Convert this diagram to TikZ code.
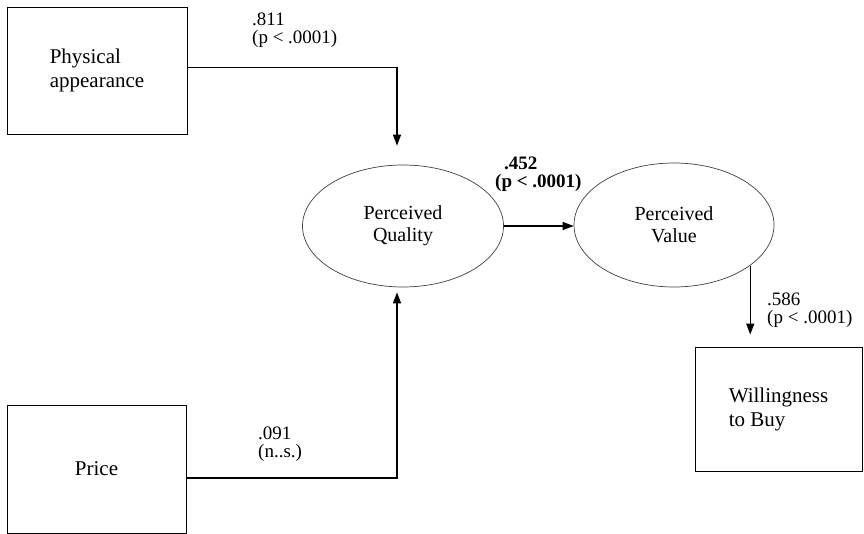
\documentclass[tikz,border=0pt]{standalone}
\usepackage{fontspec}
\setmainfont{Liberation Serif}
\usetikzlibrary{arrows.meta}
\usetikzlibrary{shapes.geometric}

\begin{document}
\begin{tikzpicture}[x=1pt, y=-1pt,
    box/.style={draw, line width=0.9pt, inner sep=0pt, font=\fontsize{21}{24}\selectfont},
    latent/.style={draw, ellipse, line width=0.7pt, draw=black!75, inner sep=0pt, align=center, font=\fontsize{20}{22}\selectfont},
    conn/.style={line width=1.4pt, -{Triangle[length=11pt,width=8pt]}},
    coef/.style={anchor=north west, inner sep=0pt, align=left, font=\fontsize{19}{18}\selectfont}]
    \useasboundingbox (0,0) rectangle (864,534);
    % observed variables
    \node[box, minimum width=180pt, minimum height=127pt, align=left] (phys) at (97,70.5) {Physical\\appearance};
    \node[box, minimum width=179pt, minimum height=128pt] (price) at (96.5,469) {Price};
    \node[box, minimum width=167pt, minimum height=124pt, align=left] (buy) at (778.5,409) {Willingness\\to Buy};
    % latent constructs
    \node[latent, minimum width=201pt, minimum height=122pt] (qual) at (403,226) {Perceived\\Quality};
    \node[latent, minimum width=200pt, minimum height=124pt] (val) at (674,225) {Perceived\\Value};
    % paths
    \draw[conn] ([yshift=3pt]phys.east) -| ([xshift=-6pt,yshift=19pt]qual.north);
    \draw[conn] ([yshift=-9pt]price.east) -| ([xshift=-6pt,yshift=-5pt]qual.south);
    \draw[conn] (qual.east) -- (qual.east -| val.west);
    \draw[conn, shorten >=12pt] (val.-28) -- (val.-28 |- buy.north);
    % coefficients
    \node[coef] (c1) at (252,13) {.811\\(p < .0001)};
    \node[coef, font=\fontsize{19}{18}\selectfont\bfseries] (c2) at (495,157) {\hspace*{9pt}.452\\(p < .0001)};
    \node[coef] (c3) at (258,427) {.091\\(n..s.)};
    \node[coef] (c4) at (767,293) {.586\\(p < .0001)};
\end{tikzpicture}
\end{document}
